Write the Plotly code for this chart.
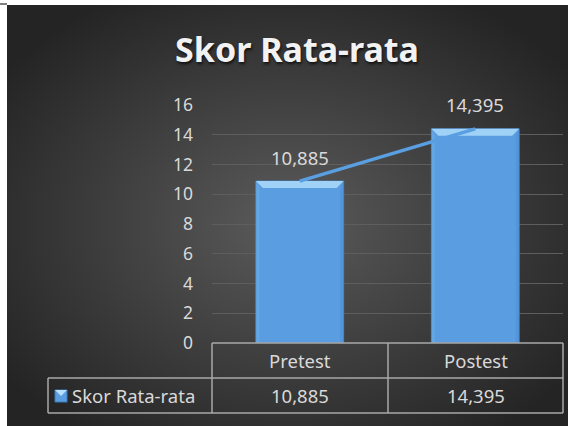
import base64
import plotly.graph_objects as go

# ---- data ----
categories = ["Pretest", "Postest"]
series_name = "Skor Rata-rata"
values = [10.885, 14.395]
y_ticks = [0, 2, 4, 6, 8, 10, 12, 14, 16]
title_text = "Skor Rata-rata"

def fmt(v):
    return f"{v:.3f}".replace(".", ",")

W, H = 568, 426
L, R, T, B = 212, 5, 105, 83
PW = W - L - R
PH = H - T - B

def px(xp):
    return (xp - L) / PW

def py(yp):
    return (H - B - yp) / PH

FONT = "Noto Sans"
TXT = "#d9d9d9"
BAR = "#5a9de0"
LINE = "#5a9fe2"
GRID = "#5e5e5e"
TBL = "#a8a8a8"
FS = 18.5

# radial gradient background as svg image
svg = (
    '<svg xmlns="http://www.w3.org/2000/svg" width="561" height="421" viewBox="0 0 561 421" preserveAspectRatio="none">'
    '<defs><radialGradient id="g" cx="50%" cy="52%" r="62%">'
    '<stop offset="0" stop-color="#5b5b5b"/><stop offset="1" stop-color="#242424"/>'
    '</radialGradient></defs><rect width="561" height="421" fill="url(#g)"/></svg>'
)
src = "data:image/svg+xml;base64," + base64.b64encode(svg.encode()).decode()

xs = list(range(len(categories)))
bw = 0.5

fig = go.Figure()
fig.add_trace(go.Bar(
    x=xs, y=values, width=bw, name=series_name,
    marker=dict(color=BAR, line=dict(color="#4484c8", width=1)),
    hoverinfo="skip", showlegend=False,
))

# bevels on bars (drawn as filled traces, beneath the line)
dx = 7 / (PW / 2)
dy = 7 / (PH / 16)
for i, v in zip(xs, values):
    x0, x1 = i - bw / 2, i + bw / 2
    polys = [
        ([x0, x1, x1 - dx, x0 + dx, x0], [v, v, v - dy, v - dy, v], "rgba(159,210,246,1)"),
        ([x1, x1, x1 - dx / 2, x1 - dx / 2, x1], [v, 0, 0, v - dy, v], "rgba(74,138,208,0.35)"),
        ([x0, x0, x0 + dx / 2, x0 + dx / 2, x0], [v, 0, 0, v - dy, v], "rgba(122,184,238,0.35)"),
    ]
    for px_, py_, col in polys:
        fig.add_trace(go.Scatter(x=px_, y=py_, mode="lines", fill="toself", fillcolor=col,
                                 line=dict(width=0), hoverinfo="skip", showlegend=False))

fig.add_trace(go.Scatter(
    x=xs, y=values, mode="lines",
    line=dict(color=LINE, width=3.5),
    hoverinfo="skip", showlegend=False,
))

shapes = []
annotations = []
for i, v in zip(xs, values):
    annotations.append(dict(x=i, y=v, xref="x", yref="y", text=fmt(v), showarrow=False,
                            xanchor="center", yanchor="middle",
                            yshift=24, font=dict(family=FONT, size=FS, color=TXT)))

# table
tx = [48, 212, 388, 563]
ty = [343, 378, 413]
line_style = dict(color=TBL, width=1.5)
shapes.append(dict(type="line", xref="paper", yref="paper", x0=px(tx[1]), x1=px(tx[3]), y0=py(ty[0]), y1=py(ty[0]), line=line_style))
for yy in ty[1:]:
    shapes.append(dict(type="line", xref="paper", yref="paper", x0=px(tx[0]), x1=px(tx[3]), y0=py(yy), y1=py(yy), line=line_style))
shapes.append(dict(type="line", xref="paper", yref="paper", x0=px(tx[0]), x1=px(tx[0]), y0=py(ty[1]), y1=py(ty[2]), line=line_style))
for xx in tx[1:]:
    shapes.append(dict(type="line", xref="paper", yref="paper", x0=px(xx), x1=px(xx), y0=py(ty[0]), y1=py(ty[2]), line=line_style))

for i, c in enumerate(categories):
    cx = (tx[i + 1] + tx[i + 2]) / 2
    annotations.append(dict(x=px(cx), y=py((ty[0] + ty[1]) / 2), xref="paper", yref="paper",
                            xanchor="center", yanchor="middle",
                            text=c, showarrow=False, font=dict(family=FONT, size=FS, color=TXT)))
    annotations.append(dict(x=px(cx), y=py((ty[1] + ty[2]) / 2), xref="paper", yref="paper",
                            xanchor="center", yanchor="middle",
                            text=fmt(values[i]), showarrow=False, font=dict(family=FONT, size=FS, color=TXT)))
annotations.append(dict(x=px(70), y=py((ty[1] + ty[2]) / 2), xref="paper", yref="paper",
                        xanchor="left", yanchor="middle",
                        text=series_name, showarrow=False, font=dict(family=FONT, size=FS, color=TXT)))
# legend key
shapes.append(dict(type="rect", xref="paper", yref="paper", x0=px(55), x1=px(67), y0=py(402), y1=py(390),
                   fillcolor=BAR, line=dict(color="#3d7cc0", width=1)))
shapes.append(dict(type="path", xref="paper", yref="paper",
                   path=f"M{px(55)},{py(390)} L{px(67)},{py(390)} L{px(61)},{py(396)} Z",
                   fillcolor="#b8e0fa", line=dict(width=0)))

# corner line in top-left
shapes.append(dict(type="line", xref="paper", yref="paper", x0=px(0), x1=px(7), y0=py(4), y1=py(4),
                   line=dict(color="black", width=1)))

fig.update_layout(
    width=W, height=H,
    margin=dict(l=L, r=R, t=T, b=B, autoexpand=False),
    paper_bgcolor="white",
    plot_bgcolor="rgba(0,0,0,0)",
    title=dict(text=title_text, x=297 / W, y=1 - 50 / H, xanchor="center", yanchor="middle",
               font=dict(family=FONT, size=34, color="#f2f2f2", weight="bold",
                         shadow="1px 2px 3px rgba(0,0,0,0.7)")),
    images=[dict(source=src, xref="paper", yref="paper", x=px(7), y=py(5),
                 sizex=(W - 7) / PW, sizey=(H - 5) / PH, xanchor="left", yanchor="top",
                 sizing="stretch", layer="below")],
    xaxis=dict(range=[-0.5, 1.5], showticklabels=False, showgrid=False, zeroline=False,
               showline=False, fixedrange=True),
    yaxis=dict(range=[0, 16], tickvals=y_ticks, ticktext=[str(t) for t in y_ticks],
               showgrid=True, gridcolor=GRID, gridwidth=1, zeroline=False, showline=False,
               tickfont=dict(family=FONT, size=17.5, color=TXT), ticklabelstandoff=18),
    shapes=shapes,
    annotations=annotations,
    bargap=0.5,
)

fig.write_html("out.html", config={"displayModeBar": False},
               post_script="document.body.style.margin='0';document.body.style.overflow='hidden';")
